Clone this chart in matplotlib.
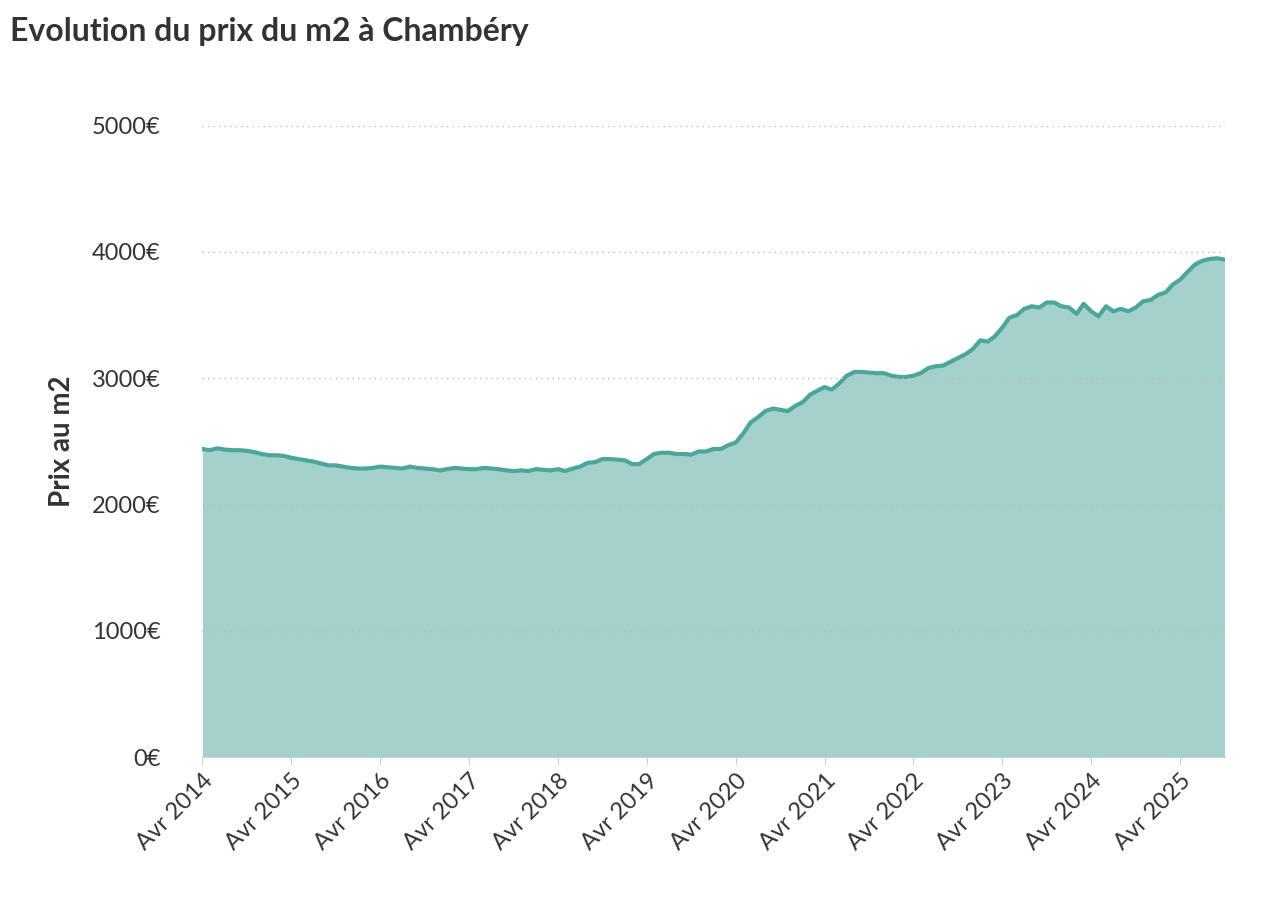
import matplotlib
matplotlib.use("Agg")
import matplotlib.pyplot as plt
import pandas as pd

plt.rcParams['font.family'] = ['Lato', 'DejaVu Sans']

values = [
2440,2430,2445,2435,2430,2430,2425,2415,2400,2390,2390,2385,
2370,2360,2350,2340,2325,2310,2310,2300,2290,2285,2285,2290,
2300,2295,2290,2285,2300,2290,2285,2280,2270,2280,2290,2285,
2280,2280,2290,2285,2280,2270,2265,2270,2265,2280,2275,2270,
2280,2265,2285,2300,2330,2335,2360,2360,2355,2350,2320,2320,
2360,2400,2410,2410,2400,2400,2395,2420,2420,2440,2440,2470,
2490,2560,2650,2690,2740,2760,2750,2740,2780,2810,2870,2900,
2930,2910,2960,3020,3050,3050,3045,3040,3040,3020,3010,3010,
3020,3040,3080,3095,3100,3130,3160,3190,3230,3300,3290,3330,
3400,3480,3500,3550,3570,3560,3600,3600,3570,3560,3510,3590,
3530,3490,3570,3530,3550,3530,3560,3610,3620,3660,3680,3740,
3780,3840,3900,3930,3945,3950,3940,
]
dates = pd.date_range("2014-04-01", periods=len(values), freq="MS")
tick_years = list(range(2014, 2026))
tick_labels = [f"Avr {y}" for y in tick_years]
y_ticks = [0, 1000, 2000, 3000, 4000, 5000]

fig = plt.figure(figsize=(12.65, 9.11), dpi=100)
ax = fig.add_axes([0.160, 0.169, 0.808, 0.693])
ax.fill_between(dates, values, 0, color="#a5d1cc", lw=0)
ax.plot(dates, values, color="#4aa79a", lw=3)
ax.set_xlim(dates[0], dates[-1])
ax.set_ylim(0, 5000)
ax.set_yticks(y_ticks)
ax.set_yticklabels([f"{v}€" for v in y_ticks], fontsize=17, color="#333333")
ax.set_xticks([pd.Timestamp(f"{y}-04-01") for y in tick_years])
ax.set_xticklabels(tick_labels, rotation=45, ha="right", rotation_mode="anchor", fontsize=17, color="#333333")
ax.tick_params(axis="y", length=0, pad=30)
ax.tick_params(axis="x", length=6, color="#c8d0d8")
for s in ["top", "right", "left"]:
    ax.spines[s].set_visible(False)
ax.spines["bottom"].set_color("#c8d0d8")
ax.grid(axis="y", linestyle=(0, (1, 3)), color="#bbbbbb", lw=1)
ax.set_axisbelow(False)
ax.set_ylabel("Prix au m2", fontsize=20, fontweight="bold", color="#333333", labelpad=12)
fig.text(0.008, 0.955, "Evolution du prix du m2 à Chambéry", fontsize=23, fontweight="bold", color="#333333")
fig.savefig("out.png", dpi=100)
